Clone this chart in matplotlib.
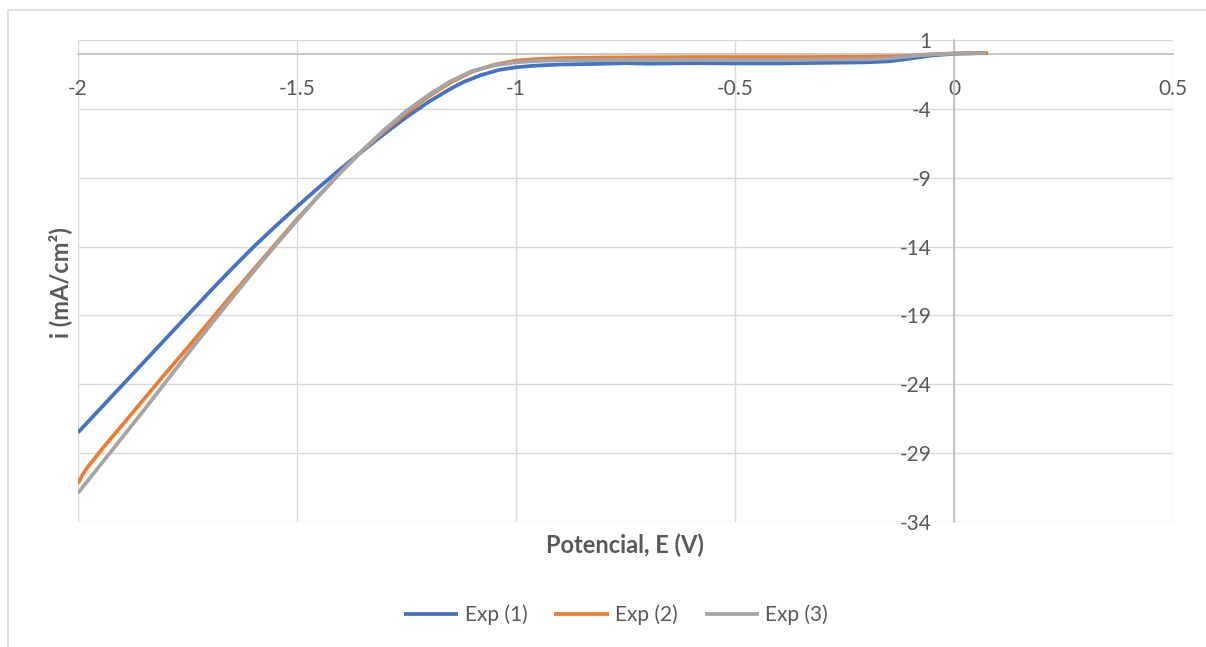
import numpy as np
import matplotlib.pyplot as plt
from matplotlib.lines import Line2D

# Exp (1)
e1 = [-2.00, -1.95, -1.90, -1.85, -1.80, -1.75, -1.70, -1.65, -1.60, -1.55,
      -1.50, -1.45, -1.40, -1.35, -1.30, -1.25, -1.20, -1.15, -1.12, -1.08,
      -1.04, -1.00, -0.96, -0.90, -0.82, -0.75, -0.70, -0.60, -0.50, -0.40,
      -0.30, -0.20, -0.15, -0.10, -0.05, 0.00, 0.05, 0.07]
i1 = [-27.5, -25.8, -24.1, -22.4, -20.7, -19.0, -17.3, -15.65, -14.05, -12.55,
      -11.1, -9.7, -8.35, -7.05, -5.8, -4.6, -3.5, -2.55, -2.05, -1.55,
      -1.18, -0.98, -0.87, -0.78, -0.74, -0.68, -0.72, -0.68, -0.70, -0.70,
      -0.66, -0.62, -0.55, -0.35, -0.12, 0.0, 0.05, 0.05]

# Exp (2)
e2 = [-2.00, -1.99, -1.98, -1.96, -1.94, -1.90, -1.85, -1.80, -1.75, -1.70,
      -1.65, -1.60, -1.55, -1.50, -1.45, -1.40, -1.35, -1.30, -1.25, -1.20,
      -1.15, -1.10, -1.05, -1.00, -0.95, -0.90, -0.80, -0.60, -0.40, -0.20,
      -0.12, -0.06, 0.00, 0.078]
i2 = [-31.2, -30.6, -30.1, -29.3, -28.5, -27.0, -25.1, -23.2, -21.35, -19.45,
      -17.55, -15.7, -13.85, -12.0, -10.3, -8.6, -7.0, -5.6, -4.3, -3.1,
      -2.1, -1.3, -0.8, -0.5, -0.38, -0.32, -0.27, -0.24, -0.24, -0.22,
      -0.18, -0.05, 0.02, 0.05]

# Exp (3)
e3 = [-2.00, -1.95, -1.90, -1.85, -1.80, -1.75, -1.70, -1.65, -1.60, -1.55,
      -1.50, -1.45, -1.40, -1.35, -1.30, -1.25, -1.20, -1.15, -1.10, -1.05,
      -1.00, -0.95, -0.90, -0.80, -0.60, -0.40, -0.20, -0.15, -0.10, -0.05,
      0.00, 0.072]
i3 = [-31.9, -29.9, -27.9, -25.9, -23.85, -21.8, -19.8, -17.8, -15.85, -13.95,
      -12.1, -10.3, -8.6, -7.0, -5.5, -4.15, -3.0, -2.0, -1.25, -0.85,
      -0.62, -0.52, -0.47, -0.45, -0.44, -0.44, -0.40, -0.33, -0.18, -0.04,
      0.02, 0.04]

labels = ["Exp (1)", "Exp (2)", "Exp (3)"]
colors = ["#4472C4", "#ED7D31", "#A5A5A5"]

x_ticks = [-2, -1.5, -1, -0.5, 0, 0.5]
x_tick_labels = ["-2", "-1.5", "-1", "-0.5", "0", "0.5"]
y_ticks = [1, -4, -9, -14, -19, -24, -29, -34]

plt.rcParams['font.family'] = ['Lato', 'DejaVu Sans']
plt.rcParams['axes.unicode_minus'] = False
text_color = "#595959"

fig = plt.figure(figsize=(12.06, 6.47), dpi=100)
ax = fig.add_axes([78 / 1206, 1 - 522 / 647, (1173 - 78) / 1206, (522 - 40) / 647])

for e, i, lab, c in zip([e1, e2, e3], [i1, i2, i3], labels, colors):
    ax.plot(e, i, color=c, lw=2.7, label=lab, solid_capstyle='butt',
            solid_joinstyle='round', zorder=3)

ax.set_xlim(-2, 0.5)
ax.set_ylim(-34, 1)
ax.set_xticks(x_ticks)
ax.set_xticklabels(x_tick_labels)
ax.set_yticks(y_ticks)
ax.grid(True, color="#d9d9d9", lw=1.0)
for gl in ax.get_xgridlines() + ax.get_ygridlines():
    gl.set_clip_on(False)
ax.set_axisbelow(True)

# axes cross at zero, like the original
ax.spines['bottom'].set_position(('data', 0))
ax.spines['left'].set_position(('data', 0))
for s in ['bottom', 'left']:
    ax.spines[s].set_color("#bfbfbf")
    ax.spines[s].set_linewidth(1.2)
    ax.spines[s].set_zorder(2)
for s in ['top', 'right']:
    ax.spines[s].set_visible(False)

ax.tick_params(axis='x', length=0, pad=18, labelsize=15, labelcolor=text_color)
ax.tick_params(axis='y', length=0, pad=16, labelsize=15, labelcolor=text_color)

fig.text(60 / 1206, 1 - 283 / 647, "i (mA/cm²)", rotation=90, ha='center', va='center',
         fontsize=17, fontweight='bold', color=text_color)
fig.text(625 / 1206, 1 - 545 / 647, "Potencial, E (V)", ha='center', va='center',
         fontsize=17, fontweight='bold', color=text_color)

fig.legend(loc='center', bbox_to_anchor=(616 / 1206, 1 - 615 / 647), ncol=3, frameon=False,
           fontsize=15, handlelength=2.6, handletextpad=0.3, columnspacing=1.3,
           labelcolor=text_color)

# chart area border (partly cut off in the original)
fig.add_artist(Line2D([8 / 1206, 8 / 1206, 1.0], [0.0, 1 - 10 / 647, 1 - 10 / 647],
                      transform=fig.transFigure, color="#d9d9d9", lw=1.2))

fig.savefig("out.png", dpi=100)
